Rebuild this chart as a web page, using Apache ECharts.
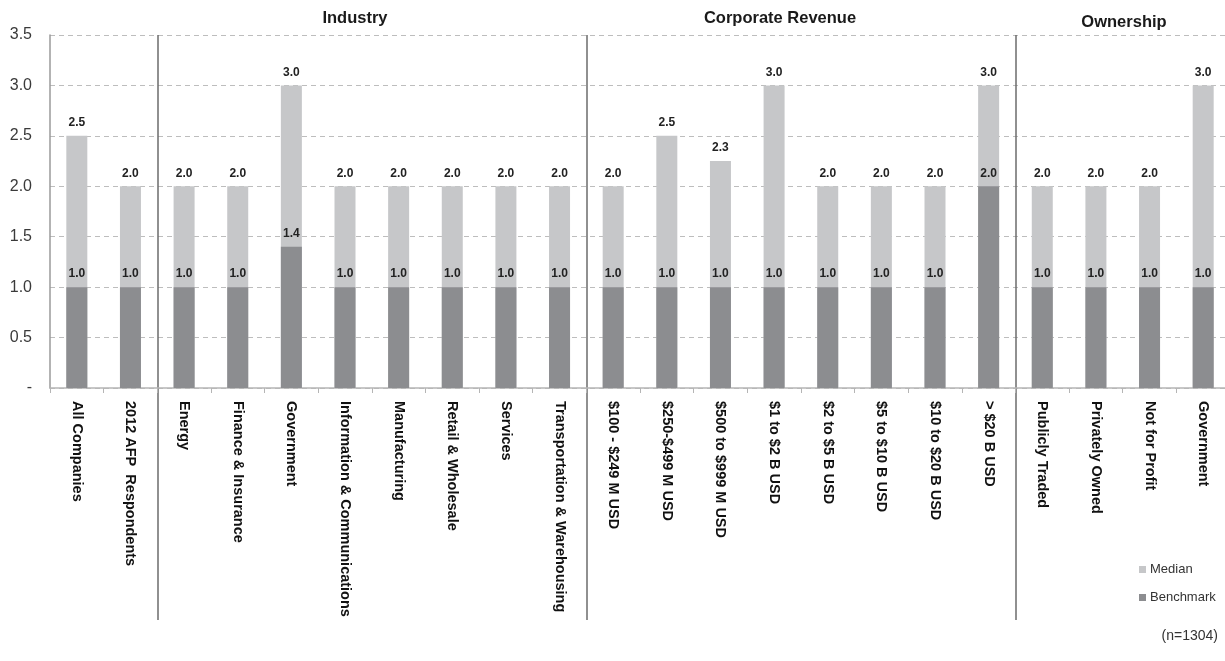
<!DOCTYPE html>
<html>
<head>
<meta charset="utf-8">
<title>Median and Benchmark by Segment</title>
<script src="https://cdn.jsdelivr.net/npm/echarts@6/dist/echarts.min.js"></script>
<style>
  html, body { margin: 0; padding: 0; background: #ffffff; }
  #chart { width: 1225px; height: 661px; }
</style>
</head>
<body>
<div id="chart"></div>
<script>
// Segment categories (respondents, industry, corporate revenue, ownership)
const categories = [
  'All Companies', '2012 AFP  Respondents',
  'Energy', 'Finance & Insurance', 'Government', 'Information & Communications',
  'Manufacturing', 'Retail & Wholesale', 'Services', 'Transportation & Warehousing',
  '$100 - $249 M USD', '$250-$499 M USD', '$500 to $999 M USD', '$1 to $2 B USD',
  '$2 to $5 B USD', '$5 to $10 B USD', '$10 to $20 B USD', '> $20 B USD',
  'Publicly Traded', 'Privately Owned', 'Not for Profit', 'Government'
];

const medianValues = [
  2.5, 2.0,
  2.0, 2.0, 3.0, 2.0, 2.0, 2.0, 2.0, 2.0,
  2.0, 2.5, 2.25, 3.0, 2.0, 2.0, 2.0, 3.0,
  2.0, 2.0, 2.0, 3.0
];

const benchmarkValues = [
  1.0, 1.0,
  1.0, 1.0, 1.4, 1.0, 1.0, 1.0, 1.0, 1.0,
  1.0, 1.0, 1.0, 1.0, 1.0, 1.0, 1.0, 2.0,
  1.0, 1.0, 1.0, 1.0
];

// Group headings and the category index where each group begins
const groupTitles = ['Industry', 'Corporate Revenue', 'Ownership'];
const groupStarts = [2, 10, 18];

const yTicks = { min: 0, max: 3.5, interval: 0.5 };

const MEDIAN_COLOR = '#c6c7c9';
const BENCH_COLOR = '#8c8d90';
const SEP_COLOR = '#6b6b6b';

const chart = echarts.init(document.getElementById('chart'));

const GRID_LEFT = 50;
const GRID_W = 1180;     // last category runs slightly past the canvas edge
const GRID_TOP = 35;
const GRID_H = 353;

const isGroupStart = (index) => groupStarts.indexOf(index) !== -1;

const valueLabel = {
  show: true,
  position: 'top',
  distance: 7,
  fontFamily: 'Liberation Sans, Arial, sans-serif',
  fontSize: 12,
  fontWeight: 'bold',
  color: '#222',
  formatter: (p) => p.value.toFixed(1)
};

chart.setOption({
  animation: false,
  backgroundColor: '#ffffff',
  textStyle: { fontFamily: 'Liberation Sans, Arial, sans-serif' },
  grid: [
    { left: GRID_LEFT, width: GRID_W, top: GRID_TOP, height: GRID_H, outerBoundsMode: 'none' },
    // band below the plot that carries the group separators past the labels
    { left: GRID_LEFT, width: GRID_W, top: GRID_TOP + GRID_H, height: 232, outerBoundsMode: 'none' }
  ],
  legend: {
    orient: 'vertical',
    left: 1134,
    top: 558,
    icon: 'rect',
    itemWidth: 7,
    itemHeight: 7,
    itemGap: 15,
    textStyle: { fontSize: 13, color: '#333', padding: [0, 0, 0, -1] },
    data: ['Median', 'Benchmark']
  },
  xAxis: [
    {
      type: 'category',
      gridIndex: 0,
      data: categories,
      boundaryGap: true,
      axisLine: { show: true, lineStyle: { color: '#b5b5b5', width: 1.5 } },
      axisTick: { show: true, length: 5, interval: 0, lineStyle: { color: '#b5b5b5' } },
      axisLabel: {
        interval: 0,
        rotate: -90,
        margin: 13,
        fontSize: 14.5,
        fontWeight: 'bold',
        color: '#111'
      },
      splitLine: {
        show: true,
        interval: (index) => isGroupStart(index),
        lineStyle: { color: SEP_COLOR, width: 1.5, type: 'solid' }
      }
    },
    {
      type: 'category',
      gridIndex: 1,
      data: categories,
      boundaryGap: true,
      axisLine: { show: false },
      axisTick: { show: false },
      axisLabel: { show: false },
      splitLine: {
        show: true,
        interval: (index) => isGroupStart(index),
        lineStyle: { color: SEP_COLOR, width: 1.5, type: 'solid' }
      }
    }
  ],
  yAxis: [
    {
      type: 'value',
      gridIndex: 0,
      min: yTicks.min,
      max: yTicks.max,
      interval: yTicks.interval,
      axisLine: { show: true, lineStyle: { color: '#9a9a9a', width: 1.5 } },
      axisTick: { show: false },
      axisLabel: {
        margin: 18,
        fontSize: 16,
        color: '#3a3a3a',
        formatter: (v) => (v === 0 ? '-' : v.toFixed(1))
      },
      splitLine: {
        show: true,
        lineStyle: { color: '#bdbdbd', type: [5, 4], width: 1.2 }
      }
    },
    {
      type: 'value',
      gridIndex: 1,
      show: false,
      min: 0,
      max: 1
    }
  ],
  graphic: groupTitles.map((t, i) => {
    const xs = [355, 780, 1124];
    const ys = [18, 18, 22];
    return {
      type: 'text',
      x: xs[i],
      y: ys[i],
      style: {
        text: t,
        fontFamily: 'Liberation Sans, Arial, sans-serif',
        fontSize: 16.5,
        fontWeight: 'bold',
        fill: '#1a1a1a',
        align: 'center',
        verticalAlign: 'middle'
      }
    };
  }).concat([{
    type: 'text',
    right: 7,
    top: 629,
    style: {
      text: '(n=1304)',
      fontFamily: 'Liberation Sans, Arial, sans-serif',
      fontSize: 14,
      fill: '#333'
    }
  }]),
  series: [
    {
      name: 'Median',
      type: 'bar',
      xAxisIndex: 0,
      yAxisIndex: 0,
      barWidth: 21,
      itemStyle: { color: MEDIAN_COLOR },
      label: valueLabel,
      data: medianValues
    },
    {
      name: 'Benchmark',
      type: 'bar',
      xAxisIndex: 0,
      yAxisIndex: 0,
      barWidth: 21,
      barGap: '-100%',
      itemStyle: { color: BENCH_COLOR },
      label: valueLabel,
      data: benchmarkValues
    }
  ]
});
</script>
</body>
</html>
